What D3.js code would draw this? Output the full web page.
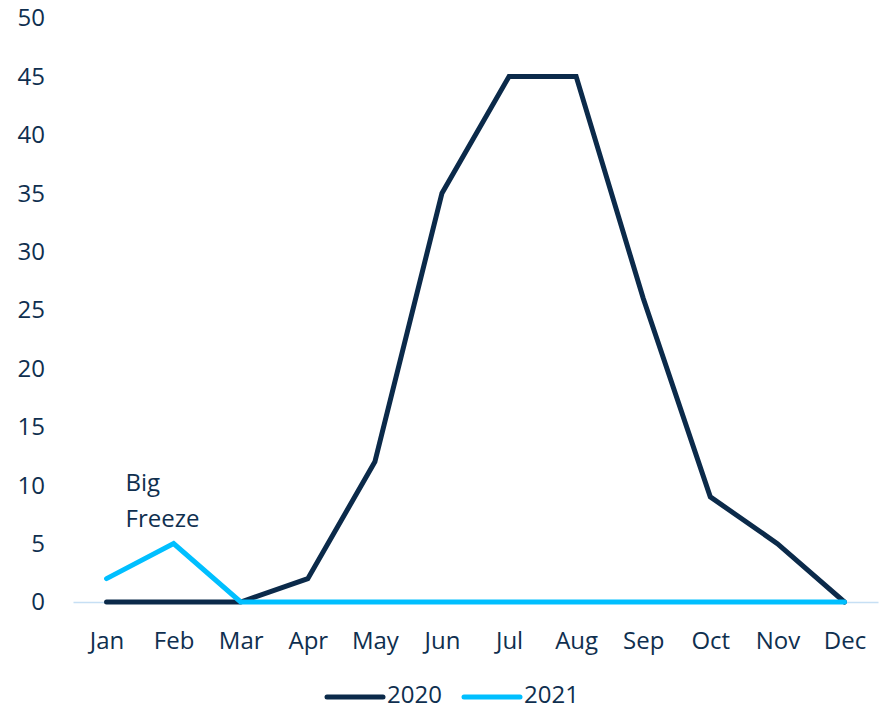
<!DOCTYPE html>
<html>
<head>
<meta charset="utf-8">
<script src="https://cdn.jsdelivr.net/npm/d3@7"></script>
<style>
  body { margin: 0; background: #fff; }
  text { font-family: "Open Sans", Lato, sans-serif; fill: #0f2f4f; }
</style>
</head>
<body>
<div id="chart"></div>
<script>
// months along the x axis
const months = ["Jan","Feb","Mar","Apr","May","Jun","Jul","Aug","Sep","Oct","Nov","Dec"];
const values2020 = [0, 0, 0, 2, 12, 35, 45, 45, 26, 9, 5, 0];
const values2021 = [2, 5, 0, 0, 0, 0, 0, 0, 0, 0, 0, 0];
const yTicks = [0, 5, 10, 15, 20, 25, 30, 35, 40, 45, 50];
const seriesNames = ["2020", "2021"];
const seriesColors = ["#0b2a4a", "#00bfff"];

const svg_width = 883, svg_height = 711;
const margin = {top: 18, right: 5, bottom: 109, left: 73};
const width = svg_width - margin.left - margin.right;
const height = svg_height - margin.top - margin.bottom;
const fontSize = '24px';

const svg = d3.select('#chart').append('svg')
    .attr('width', svg_width).attr('height', svg_height);
const g = svg.append('g').attr('transform', `translate(${margin.left},${margin.top})`);

const xScale = d3.scalePoint().domain(months).range([0, width]).padding(0.5);
const yScale = d3.scaleLinear().domain([0, 50]).range([height, 0]);

// y axis: labels only
const yAxis = d3.axisLeft(yScale).tickValues(yTicks).tickSize(0).tickPadding(28);
g.append('g').call(yAxis)
  .call(a => a.select('.domain').remove())
  .selectAll('text').style('font-size', fontSize).attr('dy', '0.33em');

// x axis with light baseline
const xAxis = d3.axisBottom(xScale).tickSize(0);
g.append('g').attr('transform', `translate(0,${height})`).call(xAxis)
  .call(a => a.select('.domain').attr('stroke', '#c6dff4').attr('stroke-width', 1.5))
  .selectAll('text').style('font-size', fontSize).attr('y', 47).attr('dy', 0);

const line = d3.line().x((d, i) => xScale(months[i])).y(d => yScale(d));

[values2020, values2021].forEach((vals, k) => {
  g.append('path').datum(vals)
    .attr('d', line)
    .attr('fill', 'none')
    .attr('stroke', seriesColors[k])
    .attr('stroke-width', 5)
    .attr('stroke-linejoin', 'miter')
    .attr('stroke-linecap', 'round');
});

// annotation
const note = g.append('text')
  .attr('x', xScale('Jan') + 19).attr('y', 491 - margin.top)
  .style('font-size', fontSize);
note.append('tspan').text('Big');
note.append('tspan').attr('x', xScale('Jan') + 19).attr('dy', 36).text('Freeze');

// legend (text kept a bit higher so it is not cut at the bottom edge)
const legend = svg.append('g').attr('transform', `translate(0,${697})`);
const legendX = [327, 464];
seriesNames.forEach((name, k) => {
  const lg = legend.append('g').attr('transform', `translate(${legendX[k]},0)`);
  lg.append('line').attr('x1', 0).attr('x2', 56).attr('y1', 0).attr('y2', 0)
    .attr('stroke', seriesColors[k]).attr('stroke-width', 5).attr('stroke-linecap', 'round');
  lg.append('text').attr('x', 60).attr('y', 6).style('font-size', fontSize).text(name);
});
</script>
</body>
</html>
